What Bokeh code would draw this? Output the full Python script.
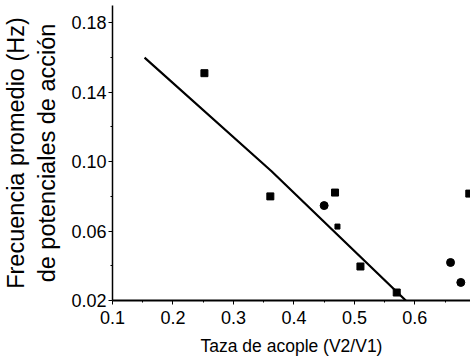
from bokeh.plotting import figure
from bokeh.models import FixedTicker, NumeralTickFormatter, Range1d
from bokeh.embed import file_html
from bokeh.resources import INLINE

# Data
sq_x = [0.252, 0.361, 0.468, 0.510, 0.570, 0.690]
sq_y = [0.151, 0.080, 0.0822, 0.0396, 0.0246, 0.0816]
small_sq_x = [0.472]
small_sq_y = [0.0626]
circ_x = [0.450, 0.659, 0.676]
circ_y = [0.0747, 0.0419, 0.0304]
fit_x = [0.153, 0.363, 0.585]
fit_y = [0.160, 0.0945, 0.020]

x_ticks = [0.1, 0.2, 0.3, 0.4, 0.5, 0.6]
x_minor = [0.15, 0.25, 0.35, 0.45, 0.55, 0.65]
y_ticks = [0.02, 0.06, 0.10, 0.14, 0.18]
y_minor = [0.04, 0.08, 0.12, 0.16]

FONT = "Liberation Sans"

p = figure(width=470, height=362, output_backend="svg", toolbar_location=None,
           x_range=Range1d(0.1, 0.692), y_range=Range1d(0.02, 0.19),
           min_border_left=110, min_border_right=0, min_border_top=5,
           min_border_bottom=62)
p.outline_line_color = None
p.grid.visible = False
p.background_fill_color = "white"

p.line(fit_x, fit_y, line_color="black", line_width=2.2)
p.scatter(sq_x, sq_y, marker="square", size=7, color="black")
p.scatter(small_sq_x, small_sq_y, marker="square", size=5, color="black")
p.scatter(circ_x, circ_y, marker="circle", size=8, color="black")

xa = p.xaxis[0]
xa.ticker = FixedTicker(ticks=x_ticks, minor_ticks=x_minor)
xa.formatter = NumeralTickFormatter(format="0.0")
xa.axis_line_width = 2
xa.axis_line_color = "black"
xa.major_tick_in = 0
xa.major_tick_out = 4
xa.minor_tick_in = 0
xa.minor_tick_out = 2
xa.major_label_text_font = FONT
xa.major_label_text_font_size = "18px"
xa.major_label_text_color = "black"
xa.major_label_standoff = 6
xa.axis_label = "Taza de acople (V2/V1)"
xa.axis_label_text_font = FONT
xa.axis_label_text_font_style = "normal"
xa.axis_label_text_font_size = "17.5px"
xa.axis_label_text_color = "black"
xa.axis_label_standoff = 9

ya = p.yaxis[0]
ya.ticker = FixedTicker(ticks=y_ticks, minor_ticks=y_minor)
ya.formatter = NumeralTickFormatter(format="0.00")
ya.axis_line_width = 1.5
ya.axis_line_color = "black"
ya.major_tick_in = 0
ya.major_tick_out = 4
ya.minor_tick_in = 0
ya.minor_tick_out = 2
ya.major_label_text_font = FONT
ya.major_label_text_font_size = "18px"
ya.major_label_text_color = "black"
ya.major_label_standoff = 2
ya.axis_label = "Frecuencia promedio (Hz)\nde potenciales de acción"
ya.axis_label_text_font = FONT
ya.axis_label_text_font_style = "normal"
ya.axis_label_text_font_size = "23.5px"
ya.axis_label_text_color = "black"
ya.axis_label_standoff = 8

open("out.html", "w").write(file_html(p, INLINE))
